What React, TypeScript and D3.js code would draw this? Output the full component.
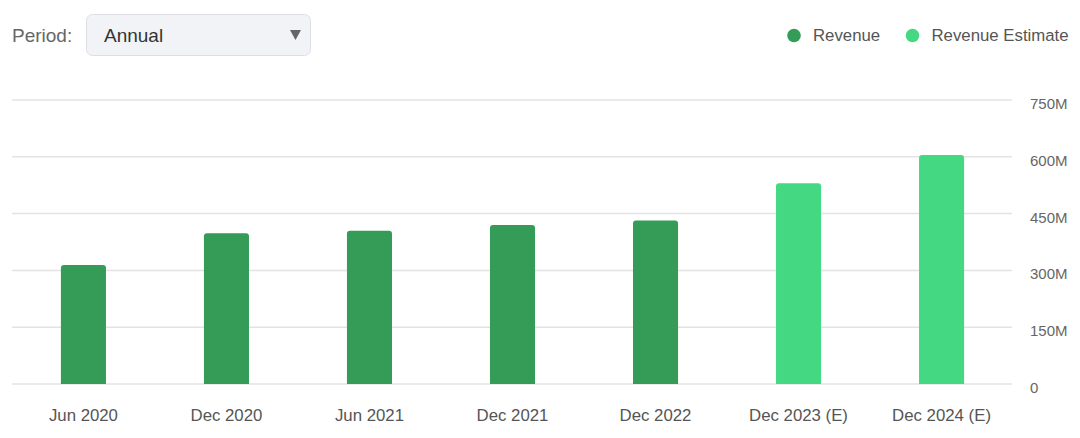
import React from "react";
import * as d3 from "d3";

const categories = ["Jun 2020", "Dec 2020", "Jun 2021", "Dec 2021", "Dec 2022", "Dec 2023 (E)", "Dec 2024 (E)"];
const values = [314, 398, 405, 420, 432, 530, 605];
const isEstimate = [false, false, false, false, false, true, true];
const yTicks = [0, 150, 300, 450, 600, 750];
const yTickLabels = ["0", "150M", "300M", "450M", "600M", "750M"];
const legendLabels = ["Revenue", "Revenue Estimate"];

const W = 1080;
const H = 438;
const DARK = "#349c56";
const LIGHT = "#45d883";
const FONT = "'Liberation Sans', Arial, sans-serif";

export default function App() {
  const x = d3.scaleBand<string>().domain(categories).range([12, 1013]).paddingInner(0.685).paddingOuter(0.342);
  const y = d3.scaleLinear().domain([0, 750]).range([384, 100]);
  const r = 3;
  const barPath = (x0: number, w: number, yTop: number, yBot: number) => {
    const p = d3.path();
    p.moveTo(x0, yBot);
    p.lineTo(x0, yTop + r);
    p.quadraticCurveTo(x0, yTop, x0 + r, yTop);
    p.lineTo(x0 + w - r, yTop);
    p.quadraticCurveTo(x0 + w, yTop, x0 + w, yTop + r);
    p.lineTo(x0 + w, yBot);
    p.closePath();
    return p.toString();
  };
  return (
    <svg width={W} height={H} style={{ position: "absolute", left: 0, top: 0, fontFamily: FONT }}>
      <rect width={W} height={H} fill="#fff" />
      {/* Period selector */}
      <text x={12} y={42} fontSize={19} fill="#666">Period:</text>
      <rect x={86.5} y={14.5} width={224} height={41} rx={6} fill="#f1f3f7" stroke="#dcdfe4" />
      <text x={104} y={42} fontSize={19} fill="#333">Annual</text>
      <path d="M290,30 L301,30 L295.5,40 Z" fill="#666" />
      {/* Legend */}
      {legendLabels.map((l, i) => {
        const cx = i === 0 ? 794 : 912.5;
        return (
          <g key={l}>
            <circle cx={cx} cy={35.5} r={6.8} fill={i === 0 ? DARK : LIGHT} />
            <text x={cx + 19} y={41} fontSize={16.8} fill="#555">{l}</text>
          </g>
        );
      })}
      {/* Grid */}
      {yTicks.map((t, i) => (
        <g key={t}>
          <line x1={12} x2={1012} y1={y(t)} y2={y(t)} stroke="#e3e3e3" strokeWidth={1.5} />
          <text x={1030} y={y(t) + 9} fontSize={15} fill="#666">{yTickLabels[i]}</text>
        </g>
      ))}
      {/* Bars */}
      {categories.map((c, i) => (
        <path key={c} d={barPath(x(c)!, x.bandwidth(), y(values[i]), y(0))} fill={isEstimate[i] ? LIGHT : DARK} />
      ))}
      {/* X labels */}
      {categories.map((c) => (
        <text key={c} x={x(c)! + x.bandwidth() / 2} y={421} fontSize={16.8} fill="#555" textAnchor="middle">{c}</text>
      ))}
    </svg>
  );
}
